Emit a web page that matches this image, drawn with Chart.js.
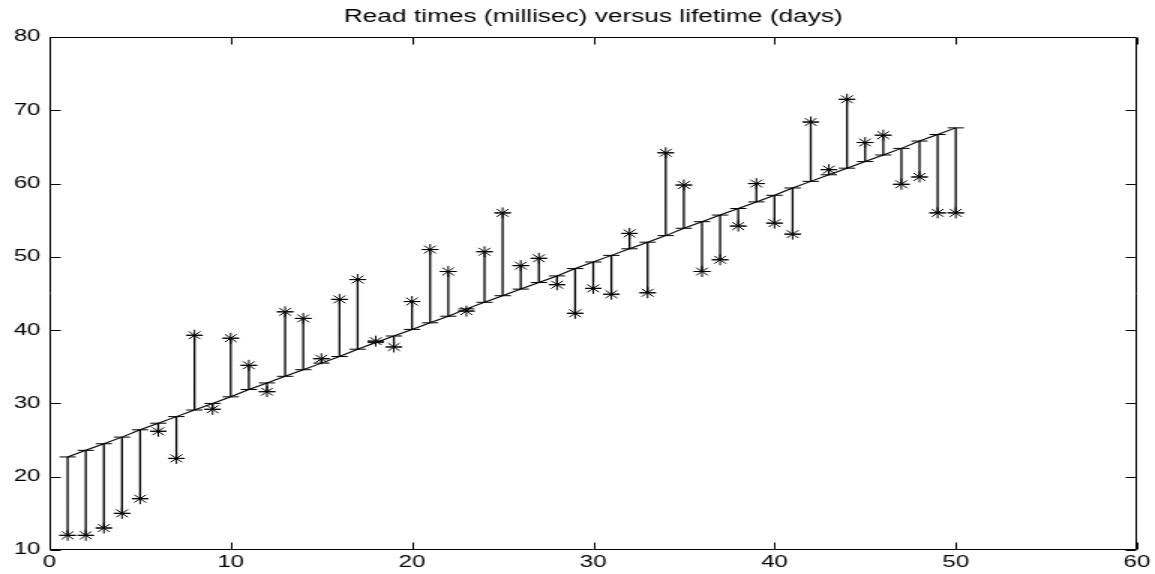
<!DOCTYPE html>
<html>
<head>
<meta charset="utf-8">
<script src="https://cdn.jsdelivr.net/npm/chart.js@4/dist/chart.umd.min.js"></script>
<style>
  html, body { margin: 0; padding: 0; background: #fff; }
  #readChart { display: block; width: 1155px; height: 574px; }
</style>
</head>
<body>
<!-- drawn at 770 wide and stretched to 1155, like the original export -->
<canvas id="readChart" width="770" height="574" style="width:1155px;height:574px"></canvas>
<script>
var days = [1,2,3,4,5,6,7,8,9,10,11,12,13,14,15,16,17,18,19,20,21,22,23,24,25,
            26,27,28,29,30,31,32,33,34,35,36,37,38,39,40,41,42,43,44,45,46,47,48,49,50];
var readTimes = [12,12,13,15,17,26.2,22.5,39.3,29.2,38.9,
                 35.2,31.6,42.5,41.6,36.1,44.2,46.9,38.5,37.7,43.9,
                 51.0,48.0,42.6,50.7,56.0,48.8,49.8,46.2,42.3,45.7,
                 44.9,53.2,45.1,64.2,59.8,48.0,49.6,54.2,60.0,54.6,
                 53.1,68.4,61.9,71.5,65.6,66.6,59.9,60.9,56.0,56.0];
var fitTimes = [22.7,23.6,24.5,25.4,26.4,27.3,28.2,29.1,30.0,30.9,
                31.9,32.8,33.7,34.6,35.5,36.4,37.4,38.3,39.2,40.1,
                41.0,41.9,42.9,43.8,44.7,45.6,46.5,47.4,48.4,49.3,
                50.2,51.1,52.0,52.9,53.9,54.8,55.7,56.6,57.5,58.4,
                59.4,60.3,61.2,62.1,63.0,63.9,64.8,65.8,66.7,67.6];
var xTicks = [0,10,20,30,40,50,60];
var yTicks = [10,20,30,40,50,60,70,80];

var capHalf = 0.45;
var barData = [], capData = [], fitData = [], starData = [];
days.forEach(function(d, i){
    barData.push({x: d, y: readTimes[i]}, {x: d, y: fitTimes[i]}, {x: d, y: null});
    capData.push({x: d - capHalf, y: fitTimes[i]}, {x: d + capHalf, y: fitTimes[i]}, {x: d, y: null});
    capData.push({x: d - capHalf, y: readTimes[i]}, {x: d + capHalf, y: readTimes[i]}, {x: d, y: null});
    fitData.push({x: d, y: fitTimes[i]});
    starData.push({x: d, y: readTimes[i]});
});

// matlab style box with ticks pointing inwards
var boxPlugin = {
    id: 'box',
    afterDraw: function(chart){
        var ctx = chart.ctx, a = chart.chartArea;
        var sx = chart.scales.x, sy = chart.scales.y;
        var tl = 7;
        var L = Math.round(a.left) + 0.5, R = Math.round(a.right) - 0.5;
        var T = Math.round(a.top) + 0.5, B = Math.round(a.bottom) - 0.5;
        ctx.save();
        ctx.strokeStyle = '#000';
        ctx.lineWidth = 1;
        ctx.beginPath();
        ctx.rect(L, T, R - L, B - T);
        xTicks.forEach(function(v){
            var px = Math.round(sx.getPixelForValue(v)) + 0.5;
            ctx.moveTo(px, B); ctx.lineTo(px, B - tl);
            ctx.moveTo(px, T); ctx.lineTo(px, T + tl);
        });
        yTicks.forEach(function(v){
            var py = Math.round(sy.getPixelForValue(v)) + 0.5;
            ctx.moveTo(L, py); ctx.lineTo(L + tl, py);
            ctx.moveTo(R, py); ctx.lineTo(R - tl, py);
        });
        ctx.stroke();
        ctx.restore();
    }
};

var ctx = document.getElementById('readChart').getContext('2d');
var chart = new Chart(ctx, {
    type: 'line',
    data: {
        datasets: [
            {
                label: 'residual',
                data: barData,
                borderColor: '#000',
                borderWidth: 1.3,
                pointRadius: 0,
                spanGaps: false,
                order: 3
            },
            {
                label: 'caps',
                data: capData,
                borderColor: '#000',
                borderWidth: 1,
                pointRadius: 0,
                spanGaps: false,
                order: 2
            },
            {
                label: 'fit',
                data: fitData,
                borderColor: '#000',
                borderWidth: 1.1,
                pointRadius: 0,
                order: 1
            },
            {
                label: 'Read times',
                data: starData,
                showLine: false,
                pointStyle: 'star',
                pointRadius: 5.5,
                pointBorderColor: '#000',
                pointBackgroundColor: '#000',
                pointBorderWidth: 1,
                order: 0
            }
        ]
    },
    options: {
        responsive: false,
        animation: false,
        devicePixelRatio: 1,
        layout: { padding: { top: 0, left: 0, right: 12, bottom: 0 } },
        scales: {
            x: {
                type: 'linear',
                min: 0,
                max: 60,
                afterFit: function(s){ s.height = 24; },
                afterBuildTicks: function(s){ s.ticks = xTicks.map(function(v){ return {value: v}; }); },
                grid: { display: false, drawTicks: false },
                border: { display: false },
                ticks: {
                    color: '#000',
                    padding: 3,
                    maxRotation: 0,
                    autoSkip: false,
                    font: { family: 'Liberation Sans, Arial, sans-serif', size: 16 }
                }
            },
            y: {
                min: 10,
                max: 80,
                afterFit: function(s){ s.width = 33; },
                afterBuildTicks: function(s){ s.ticks = yTicks.map(function(v){ return {value: v}; }); },
                grid: { display: false, drawTicks: false },
                border: { display: false },
                ticks: {
                    color: '#000',
                    padding: 6,
                    font: { family: 'Liberation Sans, Arial, sans-serif', size: 16 }
                }
            }
        },
        plugins: {
            legend: { display: false },
            tooltip: { enabled: false },
            title: {
                display: true,
                text: 'Read times (millisec) versus lifetime (days)',
                color: '#000',
                fullSize: false,
                padding: { top: 7, bottom: 9 },
                font: { family: 'Liberation Sans, Arial, sans-serif', size: 17.5, weight: 'normal' }
            }
        }
    },
    plugins: [boxPlugin]
});
</script>
</body>
</html>
